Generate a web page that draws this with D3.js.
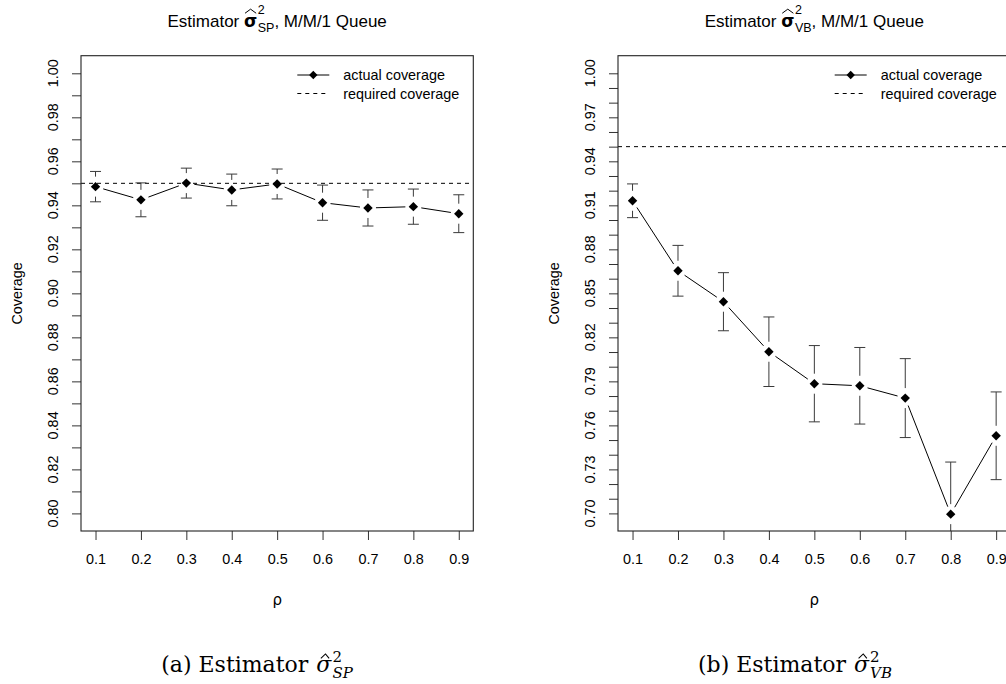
<!DOCTYPE html>
<html><head><meta charset="utf-8">
<script src="https://cdn.jsdelivr.net/npm/d3@7"></script>
<style>body{margin:0;background:#fff} svg{display:block} text{white-space:pre}</style>
</head><body>
<svg id="c" width="1006" height="684"></svg>
<script>
// ---------------- data ----------------
const rho = [0.1, 0.2, 0.3, 0.4, 0.5, 0.6, 0.7, 0.8, 0.9];
const xTickLabels = ["0.1","0.2","0.3","0.4","0.5","0.6","0.7","0.8","0.9"];

const spCoverage  = [0.9485, 0.9425, 0.9501, 0.9470, 0.9497, 0.9412, 0.9388, 0.9394, 0.9362];
const spHalfWidth = [0.0069, 0.0077, 0.0068, 0.0072, 0.0068, 0.0080, 0.0082, 0.0080, 0.0086];

const vbCoverage  = [0.9131, 0.8654, 0.8443, 0.8102, 0.7884, 0.7870, 0.7786, 0.6995, 0.7529];
const vbHalfWidth = [0.0115, 0.0173, 0.0198, 0.0237, 0.0260, 0.0261, 0.0269, 0.0355, 0.0299];

const requiredCoverage = 0.95;

const spYTicks = d3.range(80, 101).map(d => d / 100);
const spYLabels = ["0.80","0.82","0.84","0.86","0.88","0.90","0.92","0.94","0.96","0.98","1.00"];
const vbYTicks = d3.range(70, 101).map(d => d / 100);
const vbYLabels = ["0.70","0.73","0.76","0.79","0.82","0.85","0.88","0.91","0.94","0.97","1.00"];

const legendLabels = ["actual coverage", "required coverage"];

// ---------------- drawing ----------------
const svg = d3.select("#c");
const SANS = "'Liberation Sans', Arial, sans-serif";
const SERIF = "'DejaVu Serif', serif";

function mathText(parent, cx, baseline, o) {
  const g = parent.append("g");
  let x = 0;
  const add = (txt, size, y, italic, family) => {
    const t = g.append("text").attr("x", x).attr("y", y)
      .attr("font-size", size).attr("font-family", family || o.family)
      .attr("fill", "#000").text(txt);
    if (italic) t.attr("font-style", "italic");
    return t;
  };
  const t1 = add(o.prefix, o.size, 0);
  x += t1.node().getComputedTextLength() + o.space;
  const ts = add("σ", o.size, 0, o.sigmaItalic, o.sigmaFamily);
  if (o.sigmaBold) ts.attr("font-weight", "bold");
  const sw = ts.node().getComputedTextLength();
  const hx0 = x + sw * o.hatL, hx1 = x + sw * o.hatR, hm = (hx0 + hx1) / 2 + (o.hatShift || 0);
  g.append("path")
    .attr("d", `M${hx0},${-o.size * o.hatY}L${hm},${-o.size * (o.hatY + o.hatH)}L${hx1},${-o.size * o.hatY}`)
    .attr("fill", "none").attr("stroke", "#000").attr("stroke-width", o.hatW);
  x += sw + o.gap;
  const sup = add("2", o.script, -o.size * o.supShift, false);
  const sub = add(o.sub, o.script, o.size * o.subShift, o.subItalic);
  x += Math.max(sup.node().getComputedTextLength(), sub.node().getComputedTextLength()) + o.after;
  if (o.suffix) {
    const t3 = add(o.suffix, o.size, 0);
    x += t3.node().getComputedTextLength();
  }
  g.attr("transform", `translate(${cx - x / 2},${baseline})`);
}

function diamond(r) { return `M0,${-r}L${r},0L0,${r}L${-r},0Z`; }

function panel(cfg) {
  const { left, right, top, bottom, yDomain, values, half, yTicks, yLabels, id } = cfg;
  const x = d3.scaleLinear().domain([0.068, 0.932]).range([left, right]);
  const y = d3.scaleLinear().domain(yDomain).range([bottom, top]);
  const g = svg.append("g");

  g.append("clipPath").attr("id", id).append("rect")
    .attr("x", left).attr("y", top).attr("width", right - left).attr("height", bottom - top);

  // x axis
  const xa = g.append("g").attr("transform", `translate(0,${bottom})`)
    .call(d3.axisBottom(x).tickValues(rho).tickFormat((d, i) => xTickLabels[i])
      .tickSize(9).tickPadding(14).tickSizeOuter(0));
  xa.select(".domain").remove();
  xa.selectAll("line").attr("stroke", "#333");
  xa.selectAll("text").attr("font-family", SANS).attr("font-size", 14.4).attr("fill", "#000");

  // y axis (ticks via axis, rotated labels manually)
  const ya = g.append("g").attr("transform", `translate(${left},0)`)
    .call(d3.axisLeft(y).tickValues(yTicks).tickFormat("").tickSize(9).tickSizeOuter(0));
  ya.select(".domain").remove();
  ya.selectAll("line").attr("stroke", "#333");
  g.append("g").selectAll("text").data(yLabels).join("text")
    .attr("transform", d => `translate(${left - 23},${y(+d)}) rotate(-90)`)
    .attr("text-anchor", "middle").attr("font-family", SANS).attr("font-size", 14.4)
    .attr("fill", "#000").text(d => d);

  // axis titles
  g.append("text").attr("transform", `translate(${left - 59},${(top + bottom) / 2}) rotate(-90)`)
    .attr("text-anchor", "middle").attr("font-family", SANS).attr("font-size", 14.4).text("Coverage");
  g.append("text").attr("x", (left + right) / 2).attr("y", 605)
    .attr("text-anchor", "middle").attr("font-family", "'DejaVu Sans', sans-serif")
    .attr("font-size", 15).text("ρ");

  const plot = g.append("g").attr("clip-path", `url(#${id})`);

  // required coverage
  plot.append("line").attr("x1", left).attr("x2", right)
    .attr("y1", y(requiredCoverage)).attr("y2", y(requiredCoverage))
    .attr("stroke", "#000").attr("stroke-width", 1).attr("stroke-dasharray", "4,4");

  // connecting line with gaps (type "b")
  const pts = rho.map((r, i) => [x(r), y(values[i])]);
  const gap = 8;
  for (let i = 0; i < pts.length - 1; i++) {
    const [x0, y0] = pts[i], [x1, y1] = pts[i + 1];
    const L = Math.hypot(x1 - x0, y1 - y0);
    if (L <= 2 * gap) continue;
    const ux = (x1 - x0) / L, uy = (y1 - y0) / L;
    plot.append("line")
      .attr("x1", x0 + ux * gap).attr("y1", y0 + uy * gap)
      .attr("x2", x1 - ux * gap).attr("y2", y1 - uy * gap)
      .attr("stroke", "#000").attr("stroke-width", 1);
  }

  // error bars with gap around points
  const eg = 10, cap = 5.5;
  rho.forEach((r, i) => {
    const cx = x(r), cy = y(values[i]);
    const yu = y(values[i] + half[i]), yl = y(values[i] - half[i]);
    const col = "#3a3a3a";
    if (cy - eg > yu) plot.append("line").attr("x1", cx).attr("x2", cx).attr("y1", yu).attr("y2", cy - eg).attr("stroke", col);
    if (cy + eg < yl) plot.append("line").attr("x1", cx).attr("x2", cx).attr("y1", cy + eg).attr("y2", yl).attr("stroke", col);
    plot.append("line").attr("x1", cx - cap).attr("x2", cx + cap).attr("y1", yu).attr("y2", yu).attr("stroke", col);
    plot.append("line").attr("x1", cx - cap).attr("x2", cx + cap).attr("y1", yl).attr("y2", yl).attr("stroke", col);
  });

  // points
  plot.selectAll("path.pt").data(pts).join("path").attr("class", "pt")
    .attr("transform", d => `translate(${d[0]},${d[1]})`)
    .attr("d", diamond(4.7)).attr("fill", "#000");

  // box
  g.append("rect").attr("x", left).attr("y", top).attr("width", right - left).attr("height", bottom - top)
    .attr("fill", "none").attr("stroke", "#222").attr("stroke-width", 1.1);

  // legend
  const tx = right - 130;
  const rows = [75, 93.5];
  const lg = g.append("g");
  lg.append("line").attr("x1", tx - 46).attr("x2", tx - 14).attr("y1", rows[0]).attr("y2", rows[0])
    .attr("stroke", "#000");
  lg.append("path").attr("transform", `translate(${tx - 30},${rows[0]})`).attr("d", diamond(4.2)).attr("fill", "#000");
  lg.append("line").attr("x1", tx - 46).attr("x2", tx - 14).attr("y1", rows[1]).attr("y2", rows[1])
    .attr("stroke", "#000").attr("stroke-dasharray", "4,4");
  lg.selectAll("text").data(legendLabels).join("text")
    .attr("x", tx).attr("y", (d, i) => rows[i] + 5)
    .attr("font-family", SANS).attr("font-size", 14.4).attr("fill", "#000").text(d => d);

  // title
  mathText(svg, (left + right) / 2, 26.5, {
    family: SANS, size: 17, script: 12.5, prefix: "Estimator", space: 4.7, sigmaFamily: "'DejaVu Sans', sans-serif",
    sigmaBold: true, sigmaItalic: false, hatL: 0.08, hatR: 0.92, hatY: 0.78, hatH: 0.24, hatW: 1,
    gap: 0.5, supShift: 0.72, subShift: 0.3, sub: cfg.sub, subItalic: false, after: 0, suffix: ", M/M/1 Queue"
  });
}

panel({ id: "cp1", left: 81, right: 473.3, top: 55.7, bottom: 531, yDomain: [0.792, 1.008],
  values: spCoverage, half: spHalfWidth, yTicks: spYTicks, yLabels: spYLabels, sub: "SP" });
panel({ id: "cp2", left: 618, right: 1010.7, top: 55.7, bottom: 531, yDomain: [0.688, 1.012],
  values: vbCoverage, half: vbHalfWidth, yTicks: vbYTicks, yLabels: vbYLabels, sub: "VB" });

// captions
const capOpts = (prefix, sub) => ({
  family: SERIF, size: 22, script: 15, prefix, space: 8, sigmaFamily: SERIF, sigmaItalic: true, sigmaBold: false,
  hatL: 0.3, hatR: 0.85, hatY: 0.62, hatH: 0.2, hatW: 1.1, hatShift: 0.5,
  gap: 1, supShift: 0.45, subShift: 0.26, sub, subItalic: true, after: 0, suffix: ""
});
mathText(svg, 257, 672, capOpts("(a) Estimator", "SP"));
mathText(svg, 795, 672, capOpts("(b) Estimator", "VB"));
</script>
</body></html>
